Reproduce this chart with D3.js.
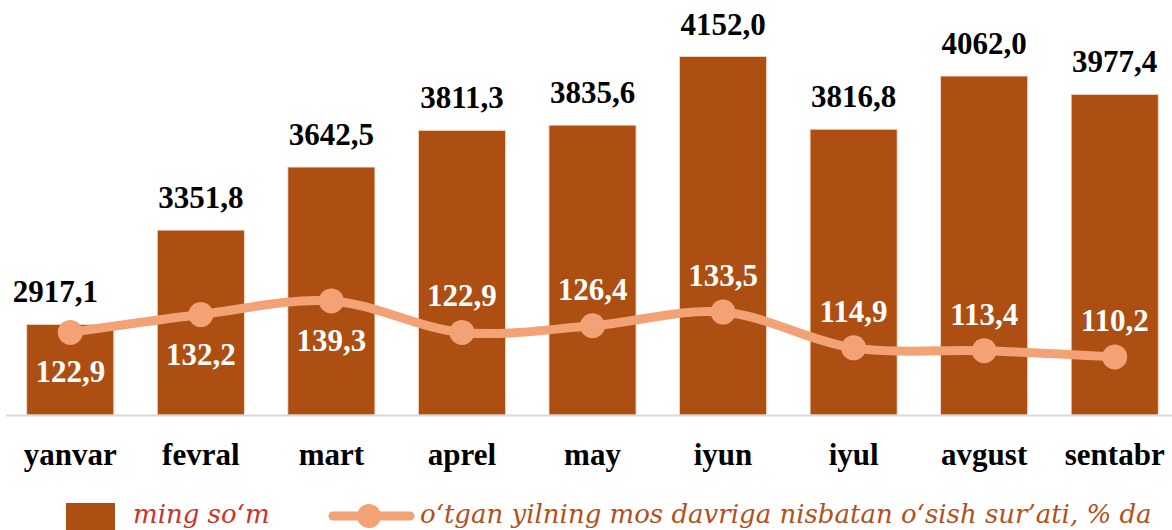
<!DOCTYPE html>
<html><head><meta charset="utf-8">
<script src="https://cdn.jsdelivr.net/npm/d3@7"></script>
<style>body{margin:0;background:#fff}svg{display:block}</style>
</head><body>
<svg id="c" width="1172" height="530"></svg>
<script>
const categories = ["yanvar","fevral","mart","aprel","may","iyun","iyul","avgust","sentabr"];
const amounts = [2917.1,3351.8,3642.5,3811.3,3835.6,4152.0,3816.8,4062.0,3977.4];
const growth = [122.9,132.2,139.3,122.9,126.4,133.5,114.9,113.4,110.2];
const barLegend = "ming so‘m";
const lineLegend = "o‘tgan yilning mos davriga nisbatan o‘sish sur’ati, % da";

const fmt = v => v.toFixed(1).replace(".", ",");
const svg = d3.select("#c");
const BAR = "#AD4E13", LINE = "#F2A274";
const SERIF = "'Liberation Serif', 'Times New Roman', serif";
const base = 415;

const x = d3.scaleBand().domain(categories).range([5, 1180]).paddingInner(1/3).paddingOuter(1/6);
const y = d3.scaleLinear().domain([2500, 4300]).range([base, 24.4]);
const y2 = d3.scaleLinear().domain([80, 280]).range([base, 30.2]);

// bars
svg.append("g").selectAll("rect").data(amounts).join("rect")
  .attr("x", (d,i) => x(categories[i]))
  .attr("y", d => y(d))
  .attr("width", x.bandwidth())
  .attr("height", d => base - y(d))
  .attr("fill", BAR)
  .attr("stroke", "#F3D9C8").attr("stroke-width", 0.8);

// axis line
svg.append("line").attr("x1", 6).attr("x2", 1172).attr("y1", base + 0.5).attr("y2", base + 0.5)
  .attr("stroke", "#D9D9D9").attr("stroke-width", 2);

// category labels
const xAxis = svg.append("g").attr("transform", `translate(0,${base})`)
  .call(d3.axisBottom(x).tickSize(0).tickPadding(0));
xAxis.select(".domain").remove();
xAxis.selectAll("text")
  .attr("dy", null).attr("y", 50)
  .attr("font-family", SERIF)
  .attr("font-weight", "bold").attr("font-size", 31).attr("fill", "#000");

// bar value labels
svg.append("g").selectAll("text").data(amounts).join("text")
  .attr("x", (d,i) => x(categories[i]) + x.bandwidth()/2 + (i === 0 ? -15 : 0))
  .attr("y", d => y(d) - 22)
  .attr("text-anchor", "middle")
  .attr("font-family", SERIF)
  .attr("font-weight", "bold").attr("font-size", 31).attr("fill", "#000")
  .text(fmt);

// line
const pts = growth.map((v,i) => [x(categories[i]) + x.bandwidth()/2, y2(v)]);
svg.append("path").datum(pts)
  .attr("d", d3.line().curve(d3.curveCatmullRom.alpha(0.5)))
  .attr("fill", "none").attr("stroke", LINE).attr("stroke-width", 9).attr("stroke-linecap", "round");
svg.append("g").selectAll("circle").data(pts).join("circle")
  .attr("cx", d => d[0]).attr("cy", d => d[1]).attr("r", 12.5).attr("fill", LINE);

// line labels
svg.append("g").selectAll("text").data(growth).join("text")
  .attr("x", (d,i) => pts[i][0])
  .attr("y", (d,i) => i < 3 ? pts[i][1] + 50 : pts[i][1] - 26)
  .attr("text-anchor", "middle")
  .attr("font-family", SERIF)
  .attr("font-weight", "bold").attr("font-size", 31).attr("fill", "#fff")
  .text(fmt);

// legend
const lg = svg.append("g");
lg.append("rect").attr("x", 66).attr("y", 503).attr("width", 49).attr("height", 30).attr("fill", BAR);
lg.append("text").attr("x", 133).attr("y", 523)
  .attr("font-family", "'DejaVu Serif', serif").attr("font-style", "italic")
  .attr("font-size", 26).attr("fill", "#CC3329").text(barLegend);
lg.append("line").attr("x1", 333).attr("x2", 410).attr("y1", 516).attr("y2", 516)
  .attr("stroke", LINE).attr("stroke-width", 9).attr("stroke-linecap", "round");
lg.append("circle").attr("cx", 369).attr("cy", 516).attr("r", 12).attr("fill", LINE);
lg.append("text").attr("x", 420).attr("y", 523)
  .attr("font-family", "'DejaVu Serif', serif").attr("font-style", "italic")
  .attr("font-size", 26).attr("fill", "#B4501A").text(lineLegend);
</script>
</body></html>
